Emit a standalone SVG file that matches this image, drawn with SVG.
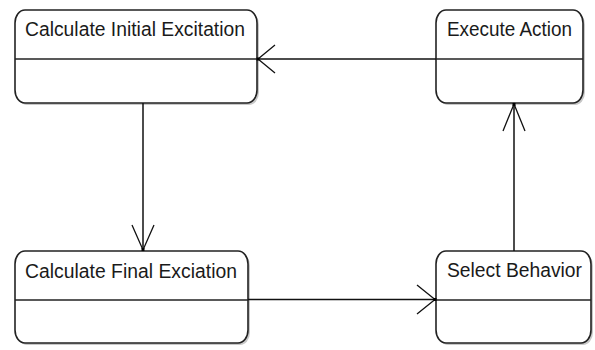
<svg xmlns="http://www.w3.org/2000/svg" width="595" height="350" viewBox="0 0 595 350">
<style>
.box{fill:#fff;stroke:#222;stroke-width:1.6}
.shadow{fill:#c8c8c8;stroke:none}
.div{stroke:#222;stroke-width:1.6}
.lbl{font-family:"Liberation Sans",Arial,sans-serif;font-size:14.5px;fill:#1a1a1a}
.edge{stroke:#111;stroke-width:1.5;fill:none}
.head{stroke:#111;stroke-width:1.3;fill:none}
.dot{fill:#000}
</style>
<rect width="595" height="350" fill="#fff"/>
<g id="calc-initial">
<rect class="shadow" x="17" y="12" width="242" height="93" rx="10" ry="13"/>
<rect class="box" x="15" y="10" width="242" height="93" rx="10" ry="13"/>
<line class="div" x1="15" y1="59" x2="257" y2="59"/>
<text class="lbl" transform="translate(25,36) scale(1,1.35)" textLength="220" lengthAdjust="spacingAndGlyphs">Calculate Initial Excitation</text>
</g>
<g id="execute-action">
<rect class="shadow" x="438" y="12" width="147" height="93" rx="10" ry="13"/>
<rect class="box" x="436" y="10" width="147" height="93" rx="10" ry="13"/>
<line class="div" x1="436" y1="59" x2="583" y2="59"/>
<text class="lbl" transform="translate(447,36) scale(1,1.35)" textLength="125" lengthAdjust="spacingAndGlyphs">Execute Action</text>
</g>
<g id="calc-final">
<rect class="shadow" x="17" y="253" width="233" height="92" rx="10" ry="13"/>
<rect class="box" x="15" y="251" width="233" height="92" rx="10" ry="13"/>
<line class="div" x1="15" y1="300" x2="248" y2="300"/>
<text class="lbl" transform="translate(25,278) scale(1,1.35)" textLength="212" lengthAdjust="spacingAndGlyphs">Calculate Final Exciation</text>
</g>
<g id="select-behavior">
<rect class="shadow" x="438" y="253" width="155" height="92" rx="10" ry="13"/>
<rect class="box" x="436" y="251" width="155" height="92" rx="10" ry="13"/>
<line class="div" x1="436" y1="300" x2="591" y2="300"/>
<text class="lbl" transform="translate(447,277) scale(1,1.35)" textLength="135" lengthAdjust="spacingAndGlyphs">Select Behavior</text>
</g>
<g id="connectors">
<line class="edge" x1="143" y1="103" x2="143" y2="250"/>
<polyline class="head" points="132,225 143,250 154,225"/>
<rect class="dot" x="141.5" y="248" width="3" height="3"/>
<line class="edge" x1="248" y1="299.5" x2="435" y2="299.5"/>
<polyline class="head" points="417,285 435,299.5 417,314"/>
<rect class="dot" x="433.5" y="298" width="3" height="3"/>
<line class="edge" x1="514" y1="251" x2="514" y2="104"/>
<polyline class="head" points="503,131 514,104 525,131"/>
<rect class="dot" x="512.5" y="103" width="3" height="3"/>
<line class="edge" x1="436" y1="59" x2="258" y2="59"/>
<polyline class="head" points="275,45 258,59 275,73"/>
<rect class="dot" x="256.5" y="57.5" width="3" height="3"/>
</g>
</svg>
